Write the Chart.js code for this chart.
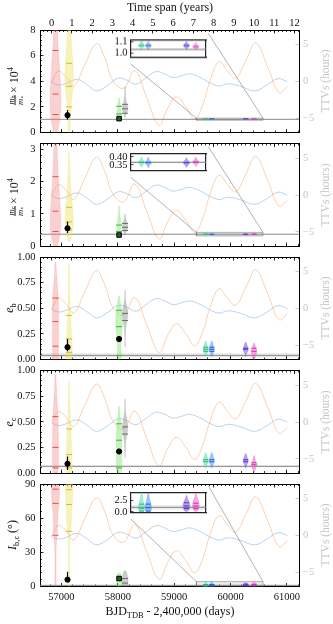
<!DOCTYPE html>
<html>
<head>
<meta charset="utf-8">
<script src="https://cdn.jsdelivr.net/npm/chart.js@4/dist/chart.umd.min.js"></script>
<style>
  body { margin: 0; width: 333px; height: 624px; position: relative; overflow: hidden; background: #fff;
         font-family: "Liberation Serif", "DejaVu Serif", serif; color: #111; }
  canvas { position: absolute; }
  .lab { position: absolute; white-space: nowrap; transform: translate(-50%, -50%); font-size: 12px; line-height: 1; }
  .rot { transform: translate(-50%, -50%) rotate(-90deg); }
  .ttv { color: #c4c4c4; font-size: 11.5px; }
  sub { font-size: 70%; vertical-align: -0.3em; line-height: 0; }
  sup { font-size: 70%; vertical-align: 0.55em; line-height: 0; }
  .frac { display: inline-flex; flex-direction: column; vertical-align: middle; font-size: 8.5px; line-height: 8px; text-align: center; margin-right: 2px; }
  .frac .den { border-top: 0.8px solid #111; }
</style>
</head>
<body>
<script>
// ---- data ----
const bjdTicks = [57000, 58000, 59000, 60000, 61000];
const yearTicks = [0, 1, 2, 3, 4, 5, 6, 7, 8, 9, 10, 11, 12];
const ttvTicks = [-5, 0, 5];

// TTV model curves (BJD, hours)
const orangeTime = [56825, 56942, 57078, 57220, 57415, 57622, 57770, 57917, 58106, 58301, 58514, 58732, 58887,
                    59041, 59206, 59365, 59512, 59631, 59796, 59950, 60092, 60269, 60447, 60660, 60860, 61009];
const orangeTTV = [-0.1, 1.4, 0.7, -0.6, 2.3, 5.15, 3.2, 0.1, -0.9, 1.5, -2.2, -5.95, -3.6,
                   -2.05, -3.4, -5.05, -3.05, 0.0, 2.7, 1.4, 0.45, 2.8, 5.25, 2.0, -1.5, -0.7];
const blueTime = [56825, 56936, 57060, 57278, 57450, 57622, 57805, 58005, 58160, 58319, 58497, 58674, 58816,
                  58980, 59135, 59277, 59454, 59631, 59796, 59956, 60163, 60429, 60642, 60842, 61009];
const blueTTV = [-0.1, -0.45, -0.3, 0.3, -0.4, -1.25, -0.6, 0.45, 0.2, -0.35, 0.5, 1.35, 1.1,
                 0.55, 0.8, 1.05, 0.6, -0.15, -0.6, -0.3, -0.6, -1.25, -0.5, 0.4, 0.0];

// violin centres (BJD) for the eight analyses
const violinTimes = [56895, 57137, 58023, 58129, 59560, 59667, 60269, 60417];

// violin profiles: [value, half width in days]
const mbViolins = [
  [[8.3, 30], [7, 42], [6, 58], [5, 72], [4, 85], [3, 95], [2, 95], [1, 78], [0.4, 50], [0, 30]],
  [[8.3, 25], [7, 42], [6, 58], [5, 72], [4, 75], [3, 55], [2, 35], [1, 22], [0, 15]],
  [[2.7, 6], [2.3, 18], [2.0, 28], [1.6, 35], [1.3, 38], [1.1, 32], [0.95, 12]],
  [[3.6, 5], [2.9, 8], [2.4, 20], [2.1, 40], [1.85, 48], [1.6, 38], [1.4, 15], [1.2, 4]],
  [[1.115, 4], [1.09, 18], [1.075, 42], [1.065, 50], [1.055, 42], [1.045, 18], [1.025, 4]],
  [[1.105, 4], [1.085, 18], [1.073, 42], [1.065, 50], [1.057, 42], [1.045, 16], [1.03, 4]],
  [[1.1, 4], [1.085, 18], [1.073, 44], [1.065, 52], [1.055, 42], [1.045, 15], [1.03, 4]],
  [[1.09, 4], [1.075, 20], [1.063, 42], [1.055, 50], [1.047, 42], [1.037, 16], [1.025, 4]]
];
const mcViolins = [
  [[3.2, 25], [2.8, 35], [2.4, 45], [2.0, 55], [1.6, 70], [1.2, 85], [0.8, 95], [0.5, 90], [0.25, 70], [0.05, 40], [0, 30]],
  [[2.9, 8], [2.4, 15], [2.0, 25], [1.6, 40], [1.3, 55], [1.0, 70], [0.75, 75], [0.5, 60], [0.3, 35], [0.15, 15]],
  [[1.25, 5], [1.0, 12], [0.8, 28], [0.6, 35], [0.45, 35], [0.35, 28], [0.3, 10]],
  [[1.0, 4], [0.85, 12], [0.72, 35], [0.6, 45], [0.5, 38], [0.42, 15], [0.35, 4]],
  [[0.40, 4], [0.385, 18], [0.373, 42], [0.366, 50], [0.358, 42], [0.348, 18], [0.335, 4]],
  [[0.398, 4], [0.383, 18], [0.371, 42], [0.364, 50], [0.356, 42], [0.346, 18], [0.333, 4]],
  [[0.395, 4], [0.38, 18], [0.37, 44], [0.363, 52], [0.355, 42], [0.345, 16], [0.335, 4]],
  [[0.40, 4], [0.385, 18], [0.375, 42], [0.368, 50], [0.36, 42], [0.35, 16], [0.34, 4]]
];
const ebViolins = [
  [[0.95, 8], [0.85, 18], [0.72, 35], [0.6, 50], [0.45, 55], [0.3, 55], [0.15, 55], [0.05, 50], [0, 45]],
  [[0.93, 5], [0.75, 10], [0.6, 15], [0.45, 25], [0.3, 38], [0.18, 50], [0.08, 55], [0, 50]],
  [[0.62, 8], [0.55, 25], [0.45, 55], [0.35, 60], [0.25, 45], [0.15, 30], [0.07, 35], [0.02, 30], [0, 20]],
  [[0.68, 3], [0.58, 8], [0.5, 35], [0.44, 45], [0.38, 35], [0.3, 10], [0.2, 4], [0.12, 2]],
  [[0.18, 4], [0.14, 25], [0.11, 45], [0.09, 45], [0.06, 25], [0.03, 4]],
  [[0.18, 4], [0.14, 25], [0.11, 45], [0.09, 45], [0.06, 25], [0.03, 4]],
  [[0.17, 4], [0.13, 30], [0.1, 45], [0.08, 35], [0.05, 10], [0.03, 3]],
  [[0.16, 4], [0.12, 30], [0.09, 48], [0.06, 45], [0.03, 25], [0.0, 10]]
];
const ecViolins = [
  [[0.96, 8], [0.85, 15], [0.7, 30], [0.55, 45], [0.4, 50], [0.25, 55], [0.1, 55], [0.03, 45], [0, 35]],
  [[0.9, 5], [0.75, 10], [0.6, 18], [0.45, 28], [0.3, 40], [0.18, 50], [0.08, 55], [0.02, 45], [0, 35]],
  [[0.65, 8], [0.55, 20], [0.45, 40], [0.35, 50], [0.25, 45], [0.15, 45], [0.07, 50], [0.02, 40], [0, 25]],
  [[0.72, 3], [0.6, 8], [0.52, 30], [0.45, 45], [0.38, 35], [0.3, 10], [0.2, 4], [0.15, 2]],
  [[0.2, 4], [0.16, 25], [0.13, 45], [0.11, 45], [0.08, 25], [0.05, 4]],
  [[0.2, 4], [0.16, 25], [0.13, 45], [0.11, 45], [0.08, 25], [0.05, 4]],
  [[0.19, 4], [0.15, 28], [0.125, 45], [0.11, 42], [0.08, 20], [0.05, 4]],
  [[0.17, 4], [0.12, 25], [0.09, 48], [0.07, 45], [0.04, 25], [0.01, 4]]
];
const incViolins = [
  [[90, 55], [86, 70], [80, 70], [72, 60], [65, 45], [55, 38], [45, 30], [38, 15], [25, 10], [10, 10], [0, 10]],
  [[90, 55], [86, 65], [80, 62], [72, 55], [62, 45], [52, 35], [45, 15], [35, 10], [20, 8], [0, 8]],
  [[12, 10], [10, 40], [7, 50], [4, 50], [1, 45], [0, 35]],
  [[14, 10], [11, 35], [8, 48], [5, 52], [2, 48], [0, 35]],
  [[4.3, 5], [3.5, 12], [2.5, 25], [1.8, 40], [1.2, 50], [0.6, 50], [0.2, 40], [0, 20]],
  [[4.3, 5], [3.5, 12], [2.5, 28], [1.8, 42], [1.2, 50], [0.6, 50], [0.2, 40], [0, 20]],
  [[3.6, 5], [3.0, 15], [2.4, 35], [1.8, 50], [1.2, 52], [0.7, 48], [0.3, 30], [0.1, 10]],
  [[4.2, 5], [3.5, 12], [2.8, 30], [2.2, 45], [1.5, 52], [0.9, 50], [0.4, 35], [0.1, 10]]
];

// quartile marks inside each violin
const mbMarks = [[6.4, 3.0, 1.4], [5.4, 3.6, 2.0], [2.05, 1.45, 1.1], [2.2, 1.85, 1.5], [1.065], [1.065], [1.065], [1.055]];
const mcMarks = [[2.15, 1.08, 0.45], [1.2, 0.75, 0.5], [0.65, 0.45, 0.35], [0.7, 0.58, 0.48], [0.366], [0.364], [0.363], [0.368]];
const ebMarks = [[0.6, 0.37, 0.13], [0.43, 0.2, 0.07], [0.48, 0.32, 0.04], [0.45, 0.38], [0.12, 0.1, 0.08], [0.12, 0.1, 0.08], [0.11, 0.1], [0.11, 0.08]];
const ecMarks = [[0.55, 0.25, 0.05], [0.43, 0.18, 0.05], [0.48, 0.32, 0.05], [0.45, 0.38], [0.13, 0.11], [0.13, 0.11], [0.13, 0.11], [0.1, 0.08]];
const incMarks = [[85.5, 73, 45], [85, 72, 48.5], [7], [7, 3], [1.7, 0.8, 0.2], [1.7, 0.9, 0.2], [2.0, 1.3, 0.75], [1.9, 1.3, 0.7]];

// literature values: [bjd, value, low, high]
const mbPoints = [[57108, 1.35, 1.0, 1.75]];
const mcPoints = [[57108, 0.55, 0.4, 0.75]];
const ebPoints = [[57108, 0.12, 0.08, 0.2], [58023, 0.2, 0.17, 0.23]];
const ecPoints = [[57108, 0.09, 0.03, 0.16], [58023, 0.21, 0.19, 0.23]];
const incPoints = [[57108, 6, 4, 13]];
const mbSquares = [[58023, 1.08]];
const mcSquares = [[58023, 0.34]];
const incSquares = [[58023, 7]];

// per-panel axis ranges, ticks and reference (truth) values
const panelRanges = [[0, 8], [0, 3.18], [0, 1], [0, 1], [0, 90]];
const panelTicks = [[0, 2, 4, 6, 8], [0, 1, 2, 3], [0, 0.25, 0.5, 0.75, 1], [0, 0.25, 0.5, 0.75, 1], [0, 30, 60, 90]];
const panelMinor = [0.4, 0.2, 0.05, 0.05, 6];
const truthValues = [1.03, 0.366, 0.04, 0.065, 1.0];
const truthBands = [0.008, 0.006, 0.02, 0.01, 0.45];

// zoomed insets
const insetTime = [59395, 60577];
const insetRanges = [[0.9585, 1.1176], [0.313, 0.423], null, null, [-0.17, 4.28]];
const insetTicks = [[1.0, 1.1], [0.35, 0.40], null, null, [0.0, 2.5]];

const X_MIN = 56620, X_MAX = 61215;
const YEAR_MIN = -0.58, YEAR_MAX = 12.22;
const TTV_MIN = -6.9, TTV_MAX = 7.0;

// ---- styles / layout ----
const fills = ['rgba(244,120,120,0.35)', 'rgba(235,225,90,0.42)', 'rgba(120,225,100,0.42)', 'rgba(140,140,140,0.45)',
               'rgba(70,220,160,0.5)', 'rgba(60,140,235,0.5)', 'rgba(120,80,230,0.55)', 'rgba(235,80,200,0.5)'];
const markColors = ['#e05050', '#ccbc2c', '#40b040', '#6a6a6a', '#2fae7e', '#2060d0', '#6030d0', '#d030b0'];
const W = 333, H = 624;
const panelTops = [30, 143.5, 257, 370.5, 484];
const PANEL_H = 102.5;
const TOP_AXIS_H = 28, BOTTOM_AXIS_H = 24;
const insetBoxes = [
  { left: 130.7, top: 33.3, w: 77.6, h: 30.7 },
  { left: 130.7, top: 146.7, w: 77.6, h: 30.6 },
  null, null,
  { left: 130.7, top: 485.7, w: 77.6, h: 33.3 }
];
const allViolins = [mbViolins, mcViolins, ebViolins, ecViolins, incViolins];
const allMarks = [mbMarks, mcMarks, ebMarks, ecMarks, incMarks];
const allPoints = [mbPoints, mcPoints, ebPoints, ecPoints, incPoints];
const allSquares = [mbSquares, mcSquares, [], [], incSquares];

Chart.defaults.font.family = "'Liberation Serif', 'DejaVu Serif', serif";
Chart.defaults.font.size = 10;
Chart.defaults.color = '#111';

const fixH = h => s => { s.height = h; };
const fixW = w => s => { s.width = w; };
const setTicks = list => s => { s.ticks = list.map(v => ({ value: v })); };
function minorList(min, max, step) {
  const out = [];
  for (let v = Math.ceil(min / step) * step; v <= max + 1e-9; v += step) out.push(+v.toFixed(6));
  return out;
}
const xy = (xs, ys) => xs.map((x, i) => ({ x: x, y: ys[i] }));

function violinOutline(cx, profile) {
  const right = profile.map(p => ({ x: cx + p[1], y: p[0] }));
  const left = profile.slice().reverse().map(p => ({ x: cx - p[1], y: p[0] }));
  return right.concat(left);
}

function violinDatasets(p, onlyIdx) {
  const ds = [];
  allViolins[p].forEach((prof, k) => {
    if (onlyIdx && !onlyIdx.includes(k)) return;
    ds.push({ data: violinOutline(violinTimes[k], prof), fill: 'shape', backgroundColor: fills[k],
              borderColor: fills[k], borderWidth: 0.5, tension: 0.35, pointRadius: 0, order: 10 });
    ds.push({ data: allMarks[p][k].map(v => ({ x: violinTimes[k], y: v })), showLine: false,
              pointStyle: 'line', pointRadius: k < 4 ? 3 : 2.5, pointBorderWidth: 1,
              pointBorderColor: markColors[k], order: 5 });
  });
  return ds;
}

function truthDatasets(p, x0, x1) {
  const t = truthValues[p], b = truthBands[p];
  return [
    { data: [{ x: x0, y: t - b }, { x: x1, y: t - b }, { x: x1, y: t + b }, { x: x0, y: t + b }],
      fill: 'shape', backgroundColor: 'rgba(0,0,0,0.09)', borderColor: 'rgba(0,0,0,0)', borderWidth: 0,
      pointRadius: 0, order: 25 },
    { data: [{ x: x0, y: t }, { x: x1, y: t }], borderColor: '#8a8a8a', borderWidth: 1, pointRadius: 0, order: 20 }
  ];
}

// lines from inset corners to the zoom rectangle
const connectorPlugin = {
  id: 'connectors',
  afterDatasetsDraw(chart, args, opts) {
    if (!opts.box) return;
    const xs = chart.scales.x, ys = chart.scales.y, b = opts.box;
    ctxLine(chart.ctx, b.left, b.top + b.h, xs.getPixelForValue(insetTime[0]), ys.getPixelForValue(opts.yTop));
    ctxLine(chart.ctx, b.left + b.w, b.top, xs.getPixelForValue(insetTime[1]), ys.getPixelForValue(opts.yTop));
  }
};
function ctxLine(ctx, x0, y0, x1, y1) {
  ctx.save();
  ctx.strokeStyle = 'rgba(110,110,110,0.75)';
  ctx.lineWidth = 0.7;
  ctx.beginPath(); ctx.moveTo(x0, y0); ctx.lineTo(x1, y1); ctx.stroke();
  ctx.restore();
}
const whiteArea = {
  id: 'whiteArea',
  beforeDraw(chart) {
    const a = chart.chartArea;
    chart.ctx.save(); chart.ctx.fillStyle = '#fff';
    chart.ctx.fillRect(a.left, a.top, a.right - a.left, a.bottom - a.top);
    chart.ctx.restore();
  }
};

function addCanvas(left, top, w, h) {
  const cv = document.createElement('canvas');
  cv.width = w; cv.height = h;
  cv.style.left = left + 'px'; cv.style.top = top + 'px';
  cv.style.width = w + 'px'; cv.style.height = h + 'px';
  document.body.appendChild(cv);
  return cv;
}

function makePanel(p) {
  const top = panelTops[p], bottom = top + PANEL_H;
  const isFirst = p === 0, isLast = p === 4;
  const topH = isFirst ? TOP_AXIS_H : 0, botH = isLast ? BOTTOM_AXIS_H : 0;
  const [ymin, ymax] = panelRanges[p];
  const dec = p === 2 || p === 3 ? 2 : 0;
  let datasets = [];

  datasets.push({ data: xy(orangeTime, orangeTTV), yAxisID: 'yR', borderColor: 'rgba(253,170,100,0.6)',
                  borderWidth: 0.9, tension: 0.4, pointRadius: 0, order: 30 });
  datasets.push({ data: xy(blueTime, blueTTV), yAxisID: 'yR', borderColor: 'rgba(110,170,225,0.55)',
                  borderWidth: 0.9, tension: 0.4, pointRadius: 0, order: 30 });
  datasets = datasets.concat(truthDatasets(p, X_MIN, X_MAX));
  if (insetRanges[p]) {
    const [r0, r1] = insetRanges[p];
    datasets.push({ data: [{ x: insetTime[0], y: r0 }, { x: insetTime[1], y: r0 }, { x: insetTime[1], y: r1 }, { x: insetTime[0], y: r1 }, { x: insetTime[0], y: r0 }],
                    fill: 'shape', backgroundColor: 'rgba(0,0,0,0.07)', borderColor: 'rgba(120,120,120,0.8)',
                    borderWidth: 0.7, pointRadius: 0, order: 18 });
  }
  datasets = datasets.concat(violinDatasets(p));
  allPoints[p].forEach(pt => {
    datasets.push({ data: [{ x: pt[0], y: pt[2] }, { x: pt[0], y: pt[3] }], borderColor: '#000', borderWidth: 1.2, pointRadius: 0, order: 2 });
    datasets.push({ data: [{ x: pt[0], y: pt[1] }], showLine: false, pointRadius: 2.6, pointBackgroundColor: '#000', pointBorderColor: '#000', order: 1 });
  });
  allSquares[p].forEach(pt => {
    datasets.push({ data: [{ x: pt[0], y: pt[1] }], showLine: false, pointStyle: 'rect', pointRadius: 3.2,
                    pointBackgroundColor: '#2d5a2d', pointBorderColor: '#000', pointBorderWidth: 1, order: 1 });
  });

  const frameGrid = (len, col) => ({ drawOnChartArea: false, color: col || '#000', lineWidth: 0.8, tickLength: len });
  new Chart(addCanvas(0, 0, W, H), {
    type: 'line',
    data: { datasets: datasets },
    plugins: [connectorPlugin],
    options: {
      responsive: false, animation: false, events: [],
      layout: { padding: { top: top - topH, bottom: H - bottom - botH, left: 0, right: 0 } },
      plugins: { legend: { display: false }, tooltip: { enabled: false },
                 connectors: insetBoxes[p] ? { box: insetBoxes[p], yTop: insetRanges[p][1] } : {} },
      scales: {
        x: { type: 'linear', position: 'bottom', weight: 1, bounds: 'data', min: X_MIN, max: X_MAX,
             afterFit: fixH(botH), afterBuildTicks: setTicks(bjdTicks),
             border: { color: '#000', width: 1 }, grid: frameGrid(-3.5),
             ticks: { display: isLast, autoSkip: false, maxRotation: 0, padding: 8, font: { size: 10.5 }, callback: v => String(v) } },
        xm: { type: 'linear', position: 'bottom', weight: 0, bounds: 'data', min: X_MIN, max: X_MAX,
              afterFit: fixH(0), afterBuildTicks: setTicks(minorList(X_MIN, X_MAX, 200)),
              border: { display: false }, grid: frameGrid(-2), ticks: { display: false } },
        xt: { type: 'linear', position: 'top', weight: 1, bounds: 'data', min: YEAR_MIN, max: YEAR_MAX,
              afterFit: fixH(topH), afterBuildTicks: setTicks(yearTicks),
              border: { color: '#000', width: 1 }, grid: frameGrid(-3.5),
              ticks: { display: isFirst, autoSkip: false, maxRotation: 0, padding: 4, font: { size: 10.5 }, callback: v => String(v) } },
        xtm: { type: 'linear', position: 'top', weight: 0, bounds: 'data', min: YEAR_MIN, max: YEAR_MAX,
               afterFit: fixH(0), afterBuildTicks: setTicks(minorList(YEAR_MIN, YEAR_MAX, 0.2)),
               border: { display: false }, grid: frameGrid(-2), ticks: { display: false } },
        y: { type: 'linear', position: 'left', weight: 1, bounds: 'data', min: ymin, max: ymax,
             afterFit: fixW(40), afterBuildTicks: setTicks(panelTicks[p]),
             border: { color: '#000', width: 1 }, grid: frameGrid(-3.5),
             ticks: { autoSkip: false, padding: 8, font: { size: 10.5 }, callback: v => v.toFixed(dec) } },
        ym: { type: 'linear', position: 'left', weight: 0, bounds: 'data', min: ymin, max: ymax,
              afterFit: fixW(0), afterBuildTicks: setTicks(minorList(ymin, ymax, panelMinor[p])),
              border: { display: false }, grid: frameGrid(-2), ticks: { display: false } },
        yR: { type: 'linear', position: 'right', weight: 1, bounds: 'data', min: TTV_MIN, max: TTV_MAX,
              afterFit: fixW(W - 299), afterBuildTicks: setTicks(ttvTicks),
              border: { color: '#000', width: 1 }, grid: frameGrid(-3.5, '#bbbbbb'),
              ticks: { autoSkip: false, padding: 7.5, color: '#c4c4c4', font: { size: 10.5 },
                       callback: v => (v < 0 ? '\u2212' + Math.abs(v) : String(v)) } }
      }
    }
  });
}

function makeInset(p) {
  const b = insetBoxes[p];
  const [r0, r1] = insetRanges[p];
  const LW = 32;
  const dec = p === 1 ? 2 : 1;
  const datasets = truthDatasets(p, insetTime[0], insetTime[1]).concat(violinDatasets(p, [4, 5, 6, 7]));
  const frame = { drawOnChartArea: false, drawTicks: false };
  new Chart(addCanvas(b.left - LW, b.top - 6, b.w + LW + 3, b.h + 12), {
    type: 'line',
    data: { datasets: datasets },
    plugins: [whiteArea],
    options: {
      responsive: false, animation: false, events: [],
      layout: { padding: { top: 6, bottom: 6, left: 0, right: 3 } },
      plugins: { legend: { display: false }, tooltip: { enabled: false } },
      scales: {
        x: { type: 'linear', position: 'bottom', bounds: 'data', min: insetTime[0], max: insetTime[1],
             afterFit: fixH(0), border: { color: '#222', width: 1.2 }, grid: frame, ticks: { display: false } },
        xt: { type: 'linear', position: 'top', bounds: 'data', min: insetTime[0], max: insetTime[1],
              afterFit: fixH(0), border: { color: '#222', width: 1.2 }, grid: frame, ticks: { display: false } },
        y: { type: 'linear', position: 'left', bounds: 'data', min: r0, max: r1,
             afterFit: fixW(LW), afterBuildTicks: setTicks(insetTicks[p]),
             border: { color: '#222', width: 1.2 },
             grid: { drawOnChartArea: false, color: '#222', lineWidth: 0.8, tickLength: -2.5 },
             ticks: { autoSkip: false, padding: 6, font: { size: 10.5 }, callback: v => v.toFixed(dec) } },
        yR: { type: 'linear', position: 'right', bounds: 'data', min: r0, max: r1,
              afterFit: fixW(0), border: { color: '#222', width: 1.2 }, grid: frame, ticks: { display: false } }
      }
    }
  });
}

function addLabel(html, cx, cy, cls) {
  const d = document.createElement('div');
  d.className = 'lab ' + (cls || '');
  d.innerHTML = html;
  d.style.left = cx + 'px'; d.style.top = cy + 'px';
  document.body.appendChild(d);
}

for (let p = 0; p < 5; p++) makePanel(p);
[0, 1, 4].forEach(makeInset);

addLabel('Time span (years)', 170, 7);
addLabel('BJD<sub>TDB</sub> - 2,400,000 (days)', 170, 611);
addLabel('<span class="frac"><span><i>m</i><sub>b</sub></span><span class="den"><i>m</i><sub>\u22c6</sub></span></span>\u00d7 10<sup>4</sup>', 15, 86, 'rot');
addLabel('<span class="frac"><span><i>m</i><sub>c</sub></span><span class="den"><i>m</i><sub>\u22c6</sub></span></span>\u00d7 10<sup>4</sup>', 15, 197, 'rot');
addLabel('<i>e</i><sub>b</sub>', 9, 308, 'rot');
addLabel('<i>e</i><sub>c</sub>', 9, 422, 'rot');
addLabel('<i>I</i><sub>b,c</sub> (\u00b0)', 12, 535, 'rot');
panelTops.forEach(t => addLabel('TTVs (hours)', 326, t + PANEL_H / 2, 'rot ttv'));
</script>
</body>
</html>
